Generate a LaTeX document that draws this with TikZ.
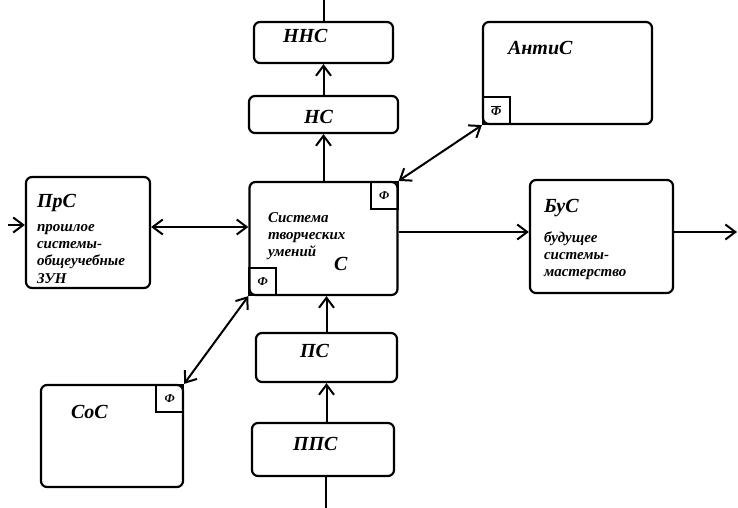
\documentclass[tikz,border=0pt]{standalone}
\usepackage{fontspec}
\setmainfont{Liberation Serif}
\usetikzlibrary{arrows.meta}

\begin{document}
\begin{tikzpicture}[x=1pt,y=-1pt,->,>={Straight Barb[length=10pt,width=15pt]},
  line width=2pt,
  sys node/.style={draw,rounded corners=6pt,line width=2.2pt,inner sep=0pt},
  phi node/.style={draw,line width=1.8pt,minimum size=27pt,inner sep=0pt,
    font=\bfseries\itshape\fontsize{12}{14}\selectfont},
  head/.style={inner sep=0pt,anchor=base west,font=\bfseries\itshape\fontsize{20}{22}\selectfont},
  note/.style={inner sep=0pt,anchor=north west,align=left,
    font=\bfseries\itshape\fontsize{15}{17.3}\selectfont}]

  \useasboundingbox (0,0) rectangle (738,508);

  % boxes
  \node[sys node,minimum width=139pt,minimum height=41pt] (hnc) at (323.5,42.5) {};
  \node[sys node,minimum width=149pt,minimum height=37pt] (nc) at (323.5,114.5) {};
  \node[sys node,minimum width=148pt,minimum height=113pt] (c) at (323.5,238.5) {};
  \node[sys node,minimum width=124pt,minimum height=111pt] (prc) at (88,232.5) {};
  \node[sys node,minimum width=169pt,minimum height=102pt] (anti) at (567.5,73) {};
  \node[sys node,minimum width=143pt,minimum height=113pt] (bus) at (601.5,236.5) {};
  \node[sys node,minimum width=142pt,minimum height=102pt] (soc) at (112,436) {};
  \node[sys node,minimum width=141pt,minimum height=49pt] (pc) at (326.5,357.5) {};
  \node[sys node,minimum width=142pt,minimum height=53pt] (ppc) at (323,449.5) {};

  % small boxes
  \node[phi node,anchor=north east] (fc1) at (c.north east) {Ф};
  \node[phi node,anchor=south west] (fc2) at (c.south west) {Ф};
  \node[phi node,anchor=south west] (fa) at (anti.south west) {$\overline{\hbox{Ф}}$};
  \node[phi node,anchor=north east] (fs) at (soc.north east) {Ф};

  % texts
  \node[head] (hnc-t) at (282,43) {ННС};
  \node[head] (nc-t) at (303,123) {НС};
  \node[head] (pc-t) at (299,357) {ПС};
  \node[head] (ppc-t) at (292,450) {ППС};
  \node[head] (prc-t) at (36,207) {ПрС};
  \node[head] (bus-t) at (543,212) {БуС};
  \node[head] (soc-t) at (70,418) {СоС};
  \node[head] (anti-t) at (507,55) {АнтиС};
  \node[head] (c-t) at (333,270) {С};
  \node[note] (prc-n) at (36,218) {\strut прошлое\\системы-\\общеучебные\\ЗУН};
  \node[note] (c-n) at (267,209) {\strut Система\\творческих\\умений};
  \node[note] (bus-n) at (543,229) {\strut будущее\\системы-\\мастерство};

  \coordinate (top) at (323.5,0);
  \coordinate (pin) at (8,225);
  \coordinate (bot) at (326,508);
  \coordinate (out) at (737,232);

  \path (c) edge (nc)
        (nc) edge (hnc)
        (hnc) edge[-] (top)
        (pin) edge (pin -| prc.west)
        ([yshift=5.5pt]prc.east) edge[<->] ([yshift=5.5pt]prc.east -| c.west)
        ([yshift=6.5pt]c.east) edge ([yshift=6.5pt]c.east -| bus.west)
        ([yshift=4.5pt]bus.east) edge (out)
        (fc1.north east) edge[<->] (fa.south west)
        (fc2.south west) edge[<->] (fs.north east)
        (pc.north) edge (pc.north |- c.south)
        (ppc.north -| pc.south) edge (pc.south)
        (bot) edge[-] (bot |- ppc.south);
\end{tikzpicture}
\end{document}
